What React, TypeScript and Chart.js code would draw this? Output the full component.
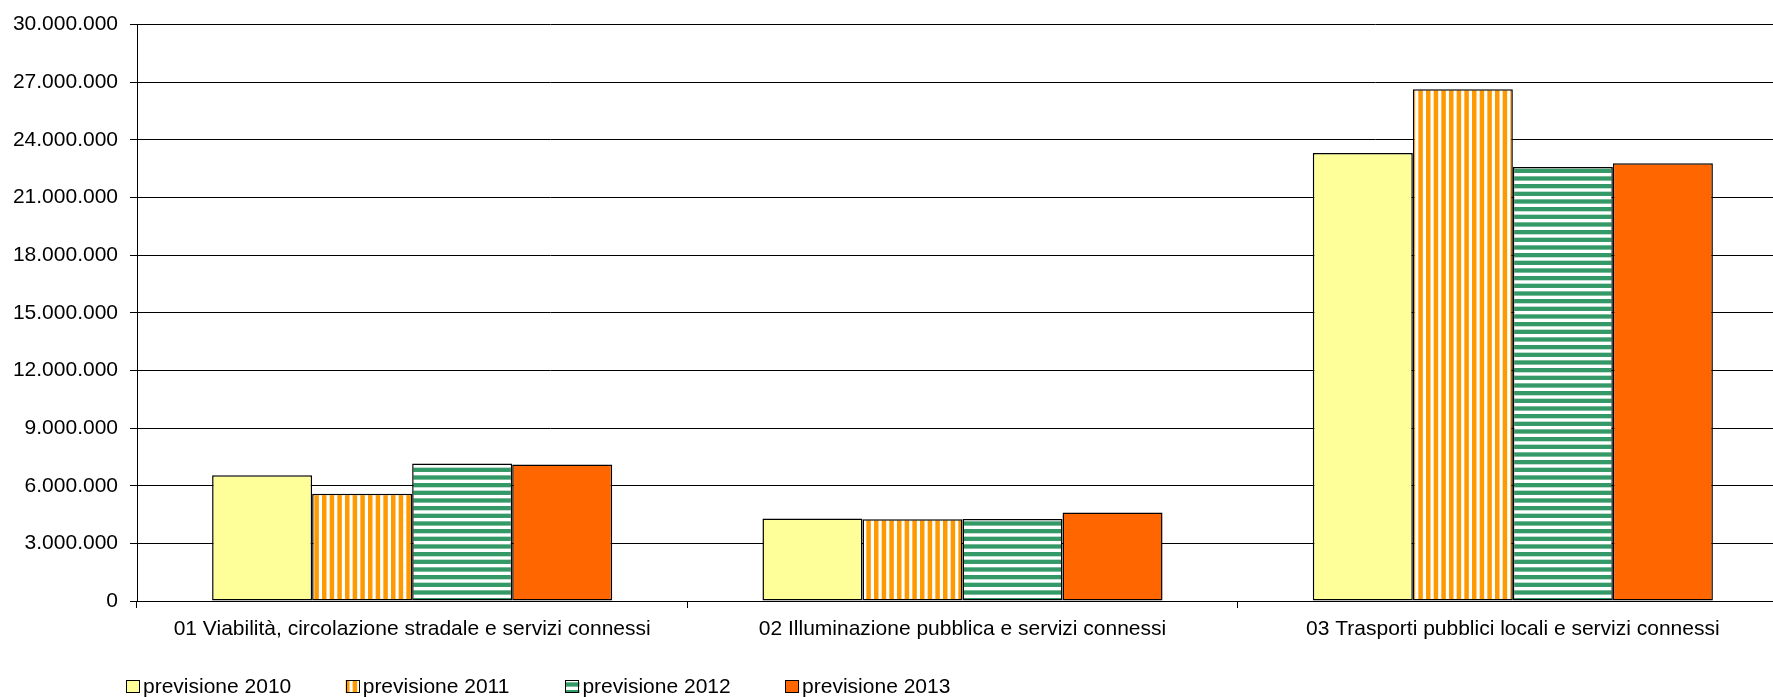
import React, { useEffect, useRef } from "react";
import { Chart, registerables } from "chart.js";

Chart.register(...registerables);

const categories = [
  "01 Viabilità, circolazione stradale e servizi connessi",
  "02 Illuminazione pubblica e servizi connessi",
  "03 Trasporti pubblici locali e servizi connessi",
];
const seriesLabels = ["previsione 2010", "previsione 2011", "previsione 2012", "previsione 2013"];
const prev2010 = [6540000, 4300000, 23320000];
const prev2011 = [5580000, 4250000, 26630000];
const prev2012 = [7160000, 4270000, 22590000];
const prev2013 = [7110000, 4600000, 22780000];
const Y_MIN = 0;
const Y_MAX = 30000000;
const Y_STEP = 3000000;

const FONT = "'Liberation Sans', Arial, sans-serif";

function fmt(v: number): string {
  return String(Math.round(v)).replace(/\B(?=(\d{3})+(?!\d))/g, ".");
}

function makeStripes(vertical: boolean, color: string, band: number): CanvasPattern | string {
  const c = document.createElement("canvas");
  const size = 23;
  c.width = size;
  c.height = size;
  const g = c.getContext("2d");
  if (!g) return color;
  g.fillStyle = "#ffffff";
  g.fillRect(0, 0, size, size);
  g.fillStyle = color;
  for (let k = 0; k < 3; k++) {
    const p = (k * size) / 3;
    if (vertical) g.fillRect(p, 0, band, size);
    else g.fillRect(0, p, size, band);
  }
  const ctx = document.createElement("canvas").getContext("2d");
  return (ctx && ctx.createPattern(c, "repeat")) || color;
}

export default function App() {
  const ref = useRef<HTMLCanvasElement | null>(null);

  useEffect(() => {
    if (!ref.current) return;
    const fills: (string | CanvasPattern)[] = [
      "#FFFF99",
      makeStripes(true, "#FF9900", 4.5),
      makeStripes(false, "#339966", 4.3),
      "#FF6600",
    ];
    const values = [prev2010, prev2011, prev2012, prev2013];

    const legendPlugin = {
      id: "customLegend",
      afterDraw(chart: any) {
        const ctx = chart.ctx;
        ctx.save();
        chart.data.datasets.forEach((ds: any, i: number) => {
          const x = 126 + i * 219.7;
          const y = 680;
          ctx.fillStyle = ds.backgroundColor;
          ctx.fillRect(x, y, 14, 13);
          ctx.strokeStyle = "#000";
          ctx.lineWidth = 1;
          ctx.strokeRect(Math.round(x) + 0.5, y + 0.5, 13, 12);
          ctx.fillStyle = "#000";
          ctx.font = `21px ${FONT}`;
          ctx.textBaseline = "alphabetic";
          ctx.textAlign = "left";
          ctx.fillText(ds.label, x + 17, 693);
        });
        ctx.restore();
      },
    };

    const chart = new Chart(ref.current, {
      type: "bar",
      data: {
        labels: categories,
        datasets: seriesLabels.map((label, i) => ({
          label,
          data: values[i],
          backgroundColor: fills[i] as any,
          borderColor: "#000",
          borderWidth: 1.5,
          borderSkipped: false,
          categoryPercentage: 0.727,
          barPercentage: 1,
        })),
      },
      options: {
        responsive: false,
        animation: false,
        devicePixelRatio: 1,
        layout: { padding: { top: 21, right: 12, bottom: 0, left: 0 } },
        plugins: {
          legend: { display: false },
          tooltip: { enabled: false },
        },
        scales: {
          x: {
            offset: true,
            grid: {
              display: true,
              offset: true,
              drawOnChartArea: false,
              drawTicks: true,
              tickLength: 7,
              color: "#000",
            },
            border: { display: true, color: "#000", width: 1 },
            ticks: {
              color: "#000",
              font: { family: FONT, size: 21 },
              padding: 9,
              maxRotation: 0,
              autoSkip: false,
            },
            afterFit(scale: any) {
              scale.height = 96;
            },
          },
          y: {
            min: Y_MIN,
            max: Y_MAX,
            grid: {
              color: "#000",
              lineWidth: 1,
              drawTicks: true,
              tickLength: 7,
            },
            border: { display: true, color: "#000", width: 1 },
            ticks: {
              stepSize: Y_STEP,
              color: "#000",
              font: { family: FONT, size: 21 },
              padding: 12,
              callback: (v: any) => fmt(Number(v)),
            },
            afterFit(scale: any) {
              scale.width = 137;
            },
          },
        },
      },
      plugins: [legendPlugin],
    });
    return () => chart.destroy();
  }, []);

  return (
    <div
      style={{
        position: "fixed",
        left: 0,
        top: 0,
        width: 1773,
        height: 697,
        overflow: "hidden",
        background: "#fff",
      }}
    >
      <canvas ref={ref} width={1800} height={697} style={{ display: "block", width: 1800, height: 697 }} />
    </div>
  );
}
